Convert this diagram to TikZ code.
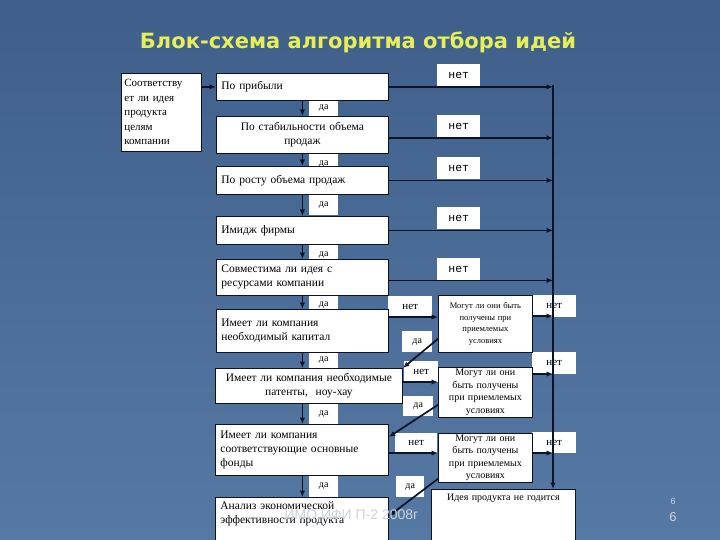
\documentclass[tikz,border=0pt]{standalone}
\usepackage{fontspec}
\setmainfont{Liberation Serif}
\setmonofont{Liberation Mono}
\newfontfamily\headfont{DejaVu Sans}
\newfontfamily\footfont{Liberation Sans}
\usetikzlibrary{arrows.meta,positioning,calc}
\definecolor{slidetop}{HTML}{3F5F8A}
\definecolor{slidebot}{HTML}{5679A4}
\definecolor{titleyellow}{HTML}{E6EF55}
\definecolor{inkblue}{HTML}{0A132A}
\definecolor{footgray}{HTML}{CDD3DE}
\tikzset{
  qbox/.style={
    draw=inkblue,
    fill=white,
    line width=0.8pt,
    anchor=north west,
    minimum width=172pt,
    text width=162pt,
    inner xsep=5pt,
    inner ysep=0pt,
    align=left,
    font=\fontsize{11.5}{14}\selectfont
  },
  askbox/.style={
    draw=inkblue,
    fill=white,
    line width=0.8pt,
    anchor=north west,
    minimum width=94pt,
    text width=90pt,
    inner xsep=2pt,
    inner ysep=0pt,
    align=center,
    font=\fontsize{10}{12.5}\selectfont
  },
  yeslbl/.style={
    fill=white,
    anchor=north west,
    inner sep=0pt,
    minimum width=29pt,
    font=\fontsize{10}{12}\selectfont
  },
  nolbl/.style={
    fill=white,
    anchor=north west,
    inner sep=0pt,
    minimum width=43pt,
    minimum height=22pt,
    font=\fontsize{11}{12}\selectfont
  },
  link/.style={
    -{Latex[length=6.5pt,width=5.5pt]},
    line width=1.7pt,
    draw=inkblue
  }
}

\begin{document}
\begin{tikzpicture}[x=1pt,y=-1pt]
\useasboundingbox (0,0) rectangle (720,540);
\fill[top color=slidetop, bottom color=slidebot] (0,0) rectangle (720,540);

\node[font=\headfont\bfseries\fontsize{21}{24}\selectfont, text=titleyellow] (title) at (358,42) {Блок-схема алгоритма отбора идей};

% labels on the links
\node[nolbl, font=\ttfamily\fontsize{11.5}{12}\selectfont] (no1) at (437,64) {нет};
\node[nolbl, font=\ttfamily\fontsize{11.5}{12}\selectfont] (no2) at (437,115) {нет};
\node[nolbl, font=\ttfamily\fontsize{11.5}{12}\selectfont] (no3) at (437,157) {нет};
\node[nolbl, font=\ttfamily\fontsize{11.5}{12}\selectfont] (no4) at (437,207) {нет};
\node[nolbl, font=\ttfamily\fontsize{11.5}{12}\selectfont] (no5) at (437,258) {нет};
\node[nolbl, minimum width=44pt, minimum height=21pt] (no6) at (388,296) {нет};
\node[nolbl, minimum width=34pt, minimum height=21pt] (no7) at (404,361) {нет};
\node[nolbl, minimum width=42pt, minimum height=20pt] (no8) at (395,433) {нет};
\node[nolbl, minimum width=44pt] (noA) at (532,295) {нет};
\node[nolbl, minimum width=44pt] (noB) at (532,352) {нет};
\node[nolbl, minimum width=44pt, minimum height=21pt] (noC) at (532,432) {нет};
\node[yeslbl, minimum width=30pt, minimum height=21pt] (yesA) at (402,331) {да};
\node[yeslbl, minimum width=30pt, minimum height=20pt] (yesB) at (403,396) {да};
\node[yeslbl, minimum width=28pt, minimum height=21pt] (yesC) at (396,476) {да};
\node[yeslbl, minimum height=16pt] (yes1) at (309,100) {да};
\node[yeslbl, minimum height=22pt] (yes2) at (309,153) {да};
\node[yeslbl, minimum height=21pt] (yes3) at (309,194) {да};
\node[yeslbl, minimum height=21pt] (yes4) at (309,244) {да};
\node[yeslbl, minimum height=20pt] (yes5) at (309,295) {да};
\node[yeslbl, minimum height=20pt] (yes6) at (309,350) {да};
\node[yeslbl, minimum height=21pt] (yes7) at (309,403) {да};
\node[yeslbl, minimum height=22pt] (yes8) at (309,475) {да};

% question boxes
\node[qbox, minimum width=80pt, text width=74pt, inner xsep=3pt, minimum height=78pt,
      font=\fontsize{11}{14.5}\selectfont] (goal) at (121,73)
  {Соответству\\ет ли идея\\продукта\\целям\\компании};
\node[qbox, minimum height=27pt] (prof) at (216,73) {По прибыли};
\node[qbox, minimum height=37pt, align=center] (stab) at (216,116) {По стабильности объема\\продаж};
\node[qbox, minimum height=28pt] (grow) at (216,166) {По росту объема продаж};
\node[qbox, minimum height=28pt] (brand) at (216,216) {Имидж фирмы};
\node[qbox, minimum height=36pt] (res) at (216,259) {Совместима ли идея с\\ресурсами компании};
\node[qbox, minimum height=43pt] (cap) at (216,309) {Имеет ли компания\\необходимый капитал};
\node[qbox, minimum width=187pt, text width=177pt, minimum height=35pt, align=center] (pat) at (215,368)
  {Имеет ли компания необходимые\\патенты,\ \ ноу-хау};
\node[qbox, minimum width=173pt, text width=163pt, minimum height=51pt] (fund) at (215,424)
  {Имеет ли компания\\соответствующие основные\\фонды};
\node[qbox, minimum width=173pt, text width=163pt, inner ysep=4pt, text depth=40pt] (anal) at (215,497)
  {Анализ экономической\\эффективности продукта};

\node[askbox, minimum height=57pt, font=\fontsize{8.5}{11.5}\selectfont] (askA) at (438,295)
  {Могут ли они быть\\получены при\\приемлемых\\условиях};
\node[askbox, minimum height=50pt] (askB) at (438,367)
  {Могут ли они\\быть получены\\при приемлемых\\условиях};
\node[askbox, minimum height=49pt] (askC) at (438,433)
  {Могут ли они\\быть получены\\при приемлемых\\условиях};
\node[askbox, minimum width=144pt, text width=140pt, inner ysep=5pt, text depth=50pt] (bad) at (431,489)
  {Идея продукта не годится};

% links
\coordinate (rail) at (553,85);
\draw[link] (goal.east |- prof.west) -- (prof.west);
\draw[link] (prof.south) -- (stab.north);
\draw[link] (stab.south) -- (grow.north);
\draw[link] (grow.south) -- (brand.north);
\draw[link] (brand.south) -- (res.north);
\draw[link] (res.south) -- (cap.north);
\draw[link] (cap.south) -- (cap.south |- pat.north);
\draw[link] (cap.south |- pat.south) -- (cap.south |- fund.north);
\draw[link] (cap.south |- fund.south) -- (cap.south |- anal.north);

\draw[link] (prof.east) -- (prof.east -| rail);
\draw[link] ([yshift=-3pt]stab.east) -- ([yshift=-3pt]stab.east -| rail);
\draw[link] (grow.east) -- (grow.east -| rail);
\draw[link] (brand.east) -- (brand.east -| rail);
\draw[link] ([yshift=-3pt]res.east) -- ([yshift=-3pt]res.east -| rail);

\draw[link] ([yshift=-8pt]cap.north east) -- ([yshift=-8pt]cap.north east -| askA.west);
\draw[link] ([yshift=-14pt]pat.north east) -- ([yshift=-14pt]pat.north east -| askB.west);
\draw[link] ([yshift=-29pt]fund.north east) -- ([yshift=-29pt]fund.north east -| askC.west);

\draw[link] ([yshift=-21pt]askA.north east) -- ([yshift=-21pt]askA.north east -| rail);
\draw[link] ([yshift=-7pt]askB.north east) -- ([yshift=-7pt]askB.north east -| rail);
\draw[link] ([yshift=-20pt]askC.north east) -- ([yshift=-20pt]askC.north east -| rail);

\draw[link] ([yshift=14pt]askA.south west) -- (pat.north east);
\draw[link] ([yshift=13pt]askB.south west) -- ([yshift=-13pt]fund.north east);
\draw[link] ([yshift=4pt]askC.south west) -- ([yshift=-19pt]anal.north east);

\draw[link] (rail) -- (rail |- bad.north);

% slide footer
\node[font=\footfont\fontsize{14}{16}\selectfont, text=footgray, anchor=west] (foot) at (281,515) {ИМО ИФИ П-2 2008г};
\node[font=\footfont\fontsize{9}{10}\selectfont, text=footgray] (pgA) at (673,501) {6};
\node[font=\footfont\fontsize{13}{14}\selectfont, text=footgray] (pgB) at (673,517) {6};
\end{tikzpicture}
\end{document}
